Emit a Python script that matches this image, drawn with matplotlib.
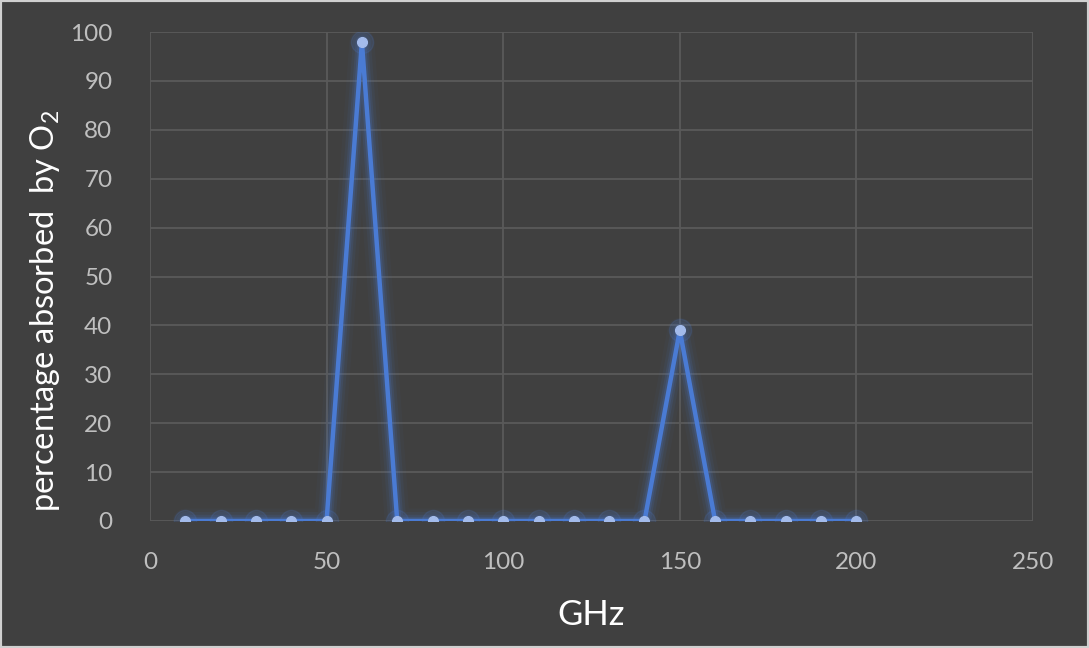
import matplotlib.pyplot as plt
from matplotlib.patches import Rectangle

ghz = [10, 20, 30, 40, 50, 60, 70, 80, 90, 100,
       110, 120, 130, 140, 150, 160, 170, 180, 190, 200]
absorbed = [0, 0, 0, 0, 0, 98, 0, 0, 0, 0,
            0, 0, 0, 0, 39, 0, 0, 0, 0, 0]

bg = '#404040'
grid_col = '#5a5a5a'
tick_col = '#bfbfbf'
line_col = '#4a7bd4'

plt.rcParams['font.family'] = ['Lato', 'DejaVu Sans']
plt.rcParams['mathtext.fontset'] = 'custom'
plt.rcParams['mathtext.rm'] = 'Lato'
plt.rcParams['mathtext.it'] = 'Lato'

fig = plt.figure(figsize=(10.89, 6.48), dpi=100, facecolor=bg)
ax = fig.add_axes([0.1377, 0.196, 0.8109, 0.7546])
ax.set_facecolor(bg)

# glow under the line
for lw, a in [(18, 0.04), (13, 0.07), (9, 0.12), (6, 0.18)]:
    ax.plot(ghz, absorbed, color=line_col, lw=lw, alpha=a,
            solid_capstyle='round', solid_joinstyle='round', zorder=2)
ax.plot(ghz, absorbed, 'o', color=line_col, ms=16, alpha=0.15, zorder=2)
ax.plot(ghz, absorbed, color=line_col, lw=3.2, zorder=3,
        marker='o', ms=7, markerfacecolor='#a3bbeb', markeredgecolor='#a3bbeb')

ax.set_xlim(0, 250)
ax.set_ylim(0, 100)
ax.set_xticks(range(0, 251, 50))
ax.set_yticks(range(0, 101, 10))
ax.grid(True, color=grid_col, lw=1.3)
ax.set_axisbelow(True)
for s in ax.spines.values():
    s.set_visible(False)
ax.tick_params(length=0, colors=tick_col, labelsize=17.5)
ax.tick_params(axis='y', pad=27)
ax.tick_params(axis='x', pad=22)

ax.set_xlabel('GHz', color='white', fontsize=25)
ax.set_ylabel('percentage absorbed  by O$_\\mathrm{2}$', color='white', fontsize=23.5)
ax.xaxis.set_label_coords(0.5, -0.16)
ax.yaxis.set_label_coords(-0.10, 0.43)

fig.patches.append(Rectangle((0, 0), 1, 1, transform=fig.transFigure,
                             fill=False, edgecolor='#d0d0d0', lw=3))

fig.savefig('out.png', dpi=100, facecolor=bg)
